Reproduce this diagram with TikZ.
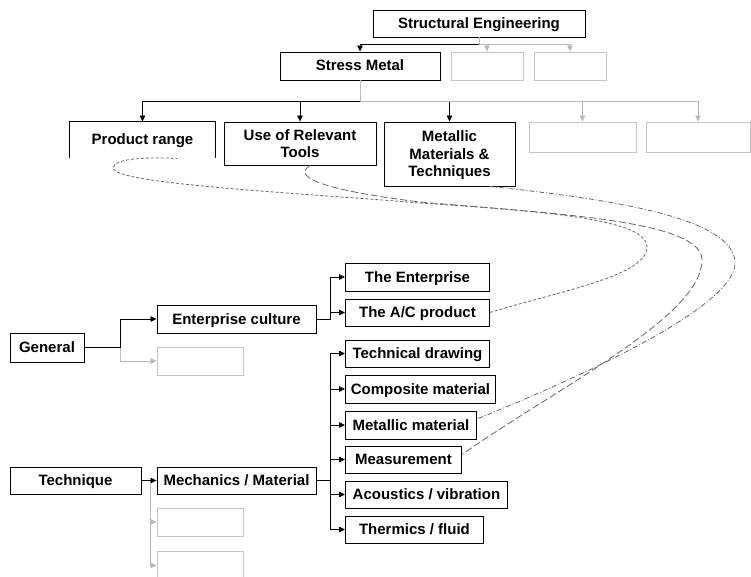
\documentclass[tikz,border=0pt]{standalone}
\usepackage{fontspec}
\setmainfont{Liberation Sans}
\usetikzlibrary{arrows.meta}

\tikzset{
  frame/.style={draw, line width=0.9pt, font=\bfseries\fontsize{15}{17.5}\selectfont,
    inner sep=2pt, minimum height=27pt},
  box/.style={frame, text height=11pt, text depth=1pt},
  blank/.style={draw=gray!45, line width=0.9pt, minimum height=28pt},
  link/.style={line width=0.8pt, -{Triangle[length=6pt,width=5.5pt]}},
  glink/.style={link, draw=gray!55},
  rel/.style={line width=0.8pt, draw=black!60},
}

\begin{document}
\begin{tikzpicture}[x=1pt,y=1pt]
    \useasboundingbox (0,0) rectangle (751,576);

    % Top of the tree
    \node[box, minimum width=212pt] (se) at (479,552.5) {Structural Engineering};
    \node[box, minimum width=160pt, minimum height=28pt] (sm) at (360,510) {Stress Metal};
    \node[blank, minimum width=72pt] (g1) at (487,510) {};
    \node[blank, minimum width=72pt] (g2) at (570,510) {};

    \draw[link] (se.south) -- ++(0,-7) -| (sm.north);
    \foreach \n in {g1,g2}
        \draw[glink] (se.south) -- ++(0,-7) -| (\n.north);

    % Themes
    \node[box, draw=none, minimum width=145pt, minimum height=36pt] (pr) at (142.5,436) {Product range};
    \draw[line width=0.9pt] (pr.south west) |- (pr.north east) -- (pr.south east);
    \node[frame, align=center, minimum width=152pt, minimum height=43pt] (ut) at (300,432.5) {Use of Relevant\\Tools};
    \node[frame, align=center, text depth=0pt, minimum width=131pt, minimum height=64pt] (mm) at (449.5,422) {Metallic\\Materials \&\\Techniques};
    \node[blank, minimum width=107pt, minimum height=30pt] (g3) at (582.5,439) {};
    \node[blank, minimum width=104pt, minimum height=30pt] (g4) at (698,439) {};

    \foreach \n in {pr,ut,mm}
        \draw[link] (sm.south) -- ++(0,-21) -| (\n.north);
    \foreach \n in {g3,g4}
        \draw[glink] (sm.south) -- ++(0,-21) -| (\n.north);

    % General
    \node[box, minimum width=74pt, minimum height=29pt] (gen) at (47,228.5) {General};
    \node[box, minimum width=159pt, minimum height=28pt] (ec) at (236.5,257) {Enterprise culture};
    \node[blank, minimum width=86pt] (g5) at (200,215) {};
    \node[box, anchor=west, minimum width=144pt, minimum height=28pt] (ent) at (345,299) {The Enterprise};
    \node[box, anchor=west, minimum width=144pt] (acp) at (345,263.5) {The A/C product};

    \draw[glink] (gen.east) -- ++(36,0) |- (g5.west);
    \draw[link] (gen.east) -- ++(36,0) |- (ec.west);
    \foreach \n in {ent,acp}
        \draw[link] (ec.east) -- ++(14,0) |- (\n.west);

    % Technique
    \node[box, minimum width=131pt] (tq) at (75.5,95.5) {Technique};
    \node[box, minimum width=159pt] (mech) at (236.5,95.5) {Mechanics / Material};
    \node[blank, minimum width=86pt] (g6) at (200,54) {};
    \node[blank, minimum width=86pt, minimum height=29pt] (g7) at (200,10.5) {};
    \node[box, anchor=west, minimum width=144pt] (td) at (345,222.5) {Technical drawing};
    \node[box, anchor=west, minimum width=150pt, minimum height=28pt] (cm) at (345,187) {Composite material};
    \node[box, anchor=west, minimum width=131pt, minimum height=28pt] (mt) at (345,151) {Metallic material};
    \node[box, anchor=west, minimum width=116pt] (ms) at (345,116.5) {Measurement};
    \node[box, anchor=west, minimum width=162pt] (av) at (345,81.5) {Acoustics / vibration};
    \node[box, anchor=west, minimum width=138pt] (tf) at (345,46.5) {Thermics / fluid};

    \foreach \n in {g6,g7}
        \draw[glink] (tq.east) -- ++(9,0) |- (\n.west);
    \draw[link] (tq.east) -- (mech.west);
    \foreach \n in {td,cm,mt,ms,av,tf}
        \draw[link] (mech.east) -- ++(14,0) |- (\n.west);

    % Cross links
    \draw[rel, densely dashed] (acp.east) .. controls (560,285) and (647,300) .. (647,329)
        .. controls (647,355) and (560,364) .. (420,373)
        .. controls (300,383) and (113,392) .. (113,408)
        .. controls (113,418) and (150,419) .. ([xshift=34.5pt]pr.south);
    \draw[rel, dash pattern=on 7pt off 3pt] ([xshift=10pt]ut.south) .. controls (290,398) and (330,385) .. (420,374)
        .. controls (560,362) and (702,355) .. (702,316)
        .. controls (702,260) and (560,190) .. ([yshift=5pt]ms.east);
    \draw[rel, dash pattern=on 5pt off 2pt on 1pt off 2pt] ([xshift=40pt]mm.south) .. controls (600,378) and (735,360) .. (735,313)
        .. controls (735,275) and (620,215) .. ([yshift=6pt]mt.east);
\end{tikzpicture}
\end{document}
